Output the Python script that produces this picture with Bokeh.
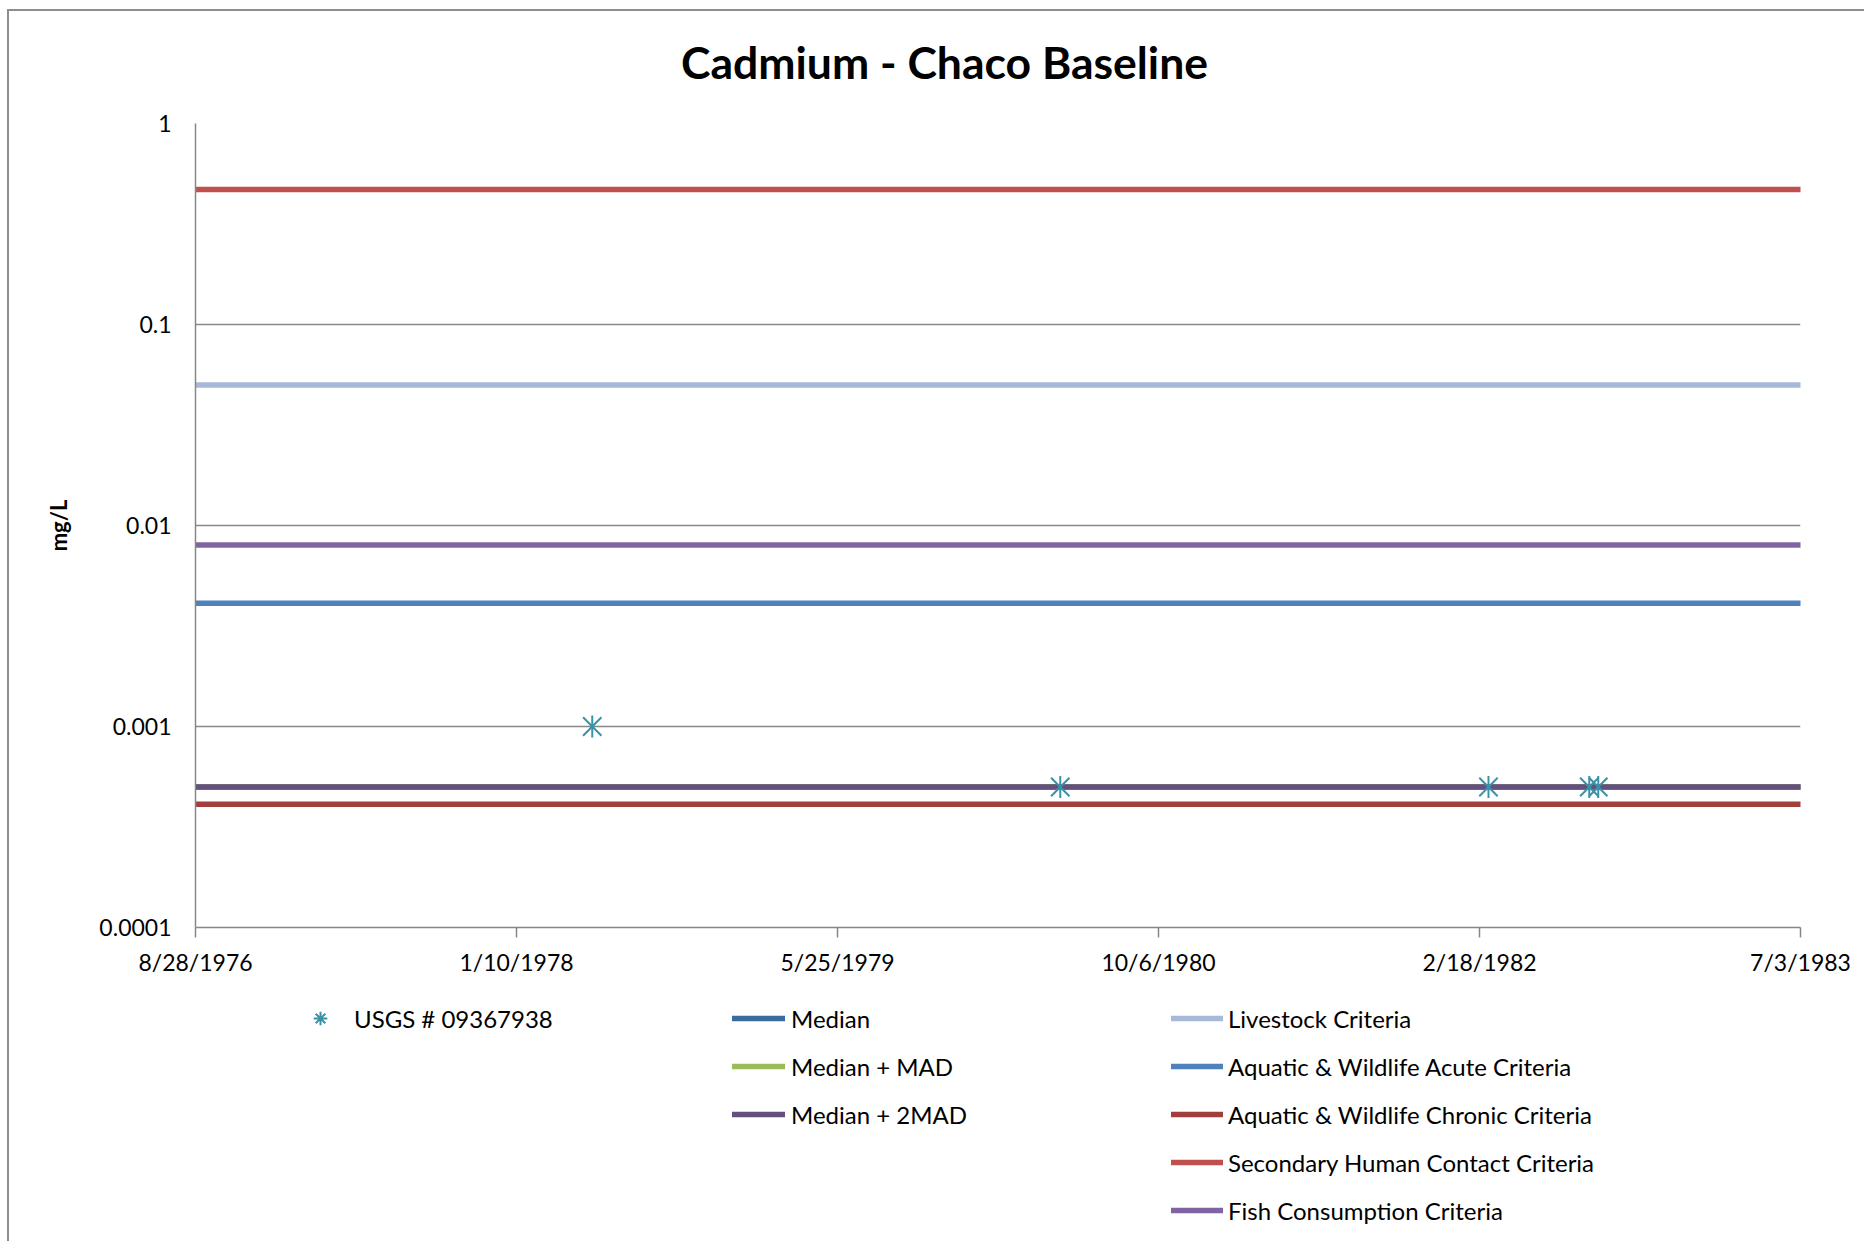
from datetime import datetime, timezone
from bokeh.plotting import figure
from bokeh.layouts import column
from bokeh.models import Range1d, FixedTicker, Legend, LegendItem, ColumnDataSource, Label
from bokeh.embed import file_html
from bokeh.resources import INLINE

# ---------------- data ----------------
title_text = "Cadmium - Chaco Baseline"
y_label = "mg/L"

x_tick_labels = ["8/28/1976", "1/10/1978", "5/25/1979", "10/6/1980", "2/18/1982", "7/3/1983"]
y_tick_values = [0.0001, 0.001, 0.01, 0.1, 1]
y_tick_labels = ["0.0001", "0.001", "0.01", "0.1", "1"]

usgs_label = "USGS # 09367938"
usgs_dates = ["5/8/1978", "5/6/1980", "3/4/1982", "8/8/1982", "8/22/1982"]
usgs_values = [0.001, 0.0005, 0.0005, 0.0005, 0.0005]

stat_names = ["Median", "Median + MAD", "Median + 2MAD"]
stat_values = [0.0005, 0.0005, 0.0005]
stat_colors = ["#3D6A9C", "#9BBB59", "#654F7F"]

crit_names = ["Livestock Criteria", "Aquatic & Wildlife Acute Criteria",
              "Aquatic & Wildlife Chronic Criteria", "Secondary Human Contact Criteria",
              "Fish Consumption Criteria"]
crit_values = [0.05, 0.0041, 0.00041, 0.47, 0.008]
crit_colors = ["#A7B9D8", "#4F81BD", "#A23F3D", "#C0504D", "#8064A2"]

marker_color = "#3A92A8"
grid_color = "#878787"
FONT = "Lato"
LINE_W = 5.5


def ms(s):
    d = datetime.strptime(s, "%m/%d/%Y").replace(tzinfo=timezone.utc)
    return d.timestamp() * 1000.0


x_ticks = [ms(s) for s in x_tick_labels]
x_start, x_end = x_ticks[0], x_ticks[-1]
usgs_src = dict(x=[ms(d) for d in usgs_dates], y=usgs_values)


def strip(height):
    f = figure(width=1855, height=height, x_range=Range1d(0, 1), y_range=Range1d(0, 1),
               output_backend="svg", toolbar_location=None,
               x_axis_location=None, y_axis_location=None,
               min_border_left=0, min_border_right=0, min_border_top=0, min_border_bottom=0)
    f.outline_line_color = None
    f.xgrid.visible = False
    f.ygrid.visible = False
    f.background_fill_color = "white"
    f.border_fill_color = "white"
    return f


# ---------------- title strip ----------------
top = strip(92)
top.add_layout(Label(x=749, y=42, x_units="screen", y_units="screen", text=title_text,
                     text_font=FONT, text_font_style="bold", text_font_size="44.5px",
                     text_align="center", text_baseline="middle", text_color="black"))

# ---------------- main figure ----------------
p = figure(width=1855, height=882, x_axis_type="datetime", y_axis_type="log",
           x_range=Range1d(x_start, x_end), y_range=Range1d(y_tick_values[0], y_tick_values[-1]),
           output_backend="svg", toolbar_location=None,
           min_border_left=186, min_border_right=64, min_border_top=20, min_border_bottom=58)
p.outline_line_color = None
p.background_fill_color = "white"
p.border_fill_color = "white"

p.xaxis.ticker = FixedTicker(ticks=x_ticks, minor_ticks=[])
p.xaxis.major_label_overrides = {t: l for t, l in zip(x_ticks, x_tick_labels)}
p.yaxis.ticker = FixedTicker(ticks=y_tick_values, minor_ticks=[])
p.yaxis.major_label_overrides = {t: l for t, l in zip(y_tick_values, y_tick_labels)}

for ax in (p.xaxis, p.yaxis):
    ax.axis_line_color = grid_color
    ax.axis_line_width = 1.5
    ax.major_tick_line_color = grid_color
    ax.major_tick_line_width = 1.5
    ax.minor_tick_line_color = None
    ax.major_tick_in = 0
    ax.major_label_text_font = FONT
    ax.major_label_text_font_size = "23px"
    ax.major_label_text_color = "black"

p.xaxis.major_tick_out = 10
p.xaxis.major_label_standoff = 10
p.yaxis.major_tick_out = 0
p.yaxis.major_label_standoff = 24

p.yaxis.axis_label = y_label
p.yaxis.axis_label_text_font = FONT
p.yaxis.axis_label_text_font_style = "bold"
p.yaxis.axis_label_text_font_size = "22px"
p.yaxis.axis_label_text_color = "black"
p.yaxis.axis_label_standoff = 24

p.xgrid.visible = False
p.ygrid.ticker = FixedTicker(ticks=y_tick_values, minor_ticks=[])
p.ygrid.grid_line_color = grid_color
p.ygrid.grid_line_width = 1.5

for v, c in zip(stat_values, stat_colors):
    p.line(x=[x_start, x_end], y=[v, v], line_color=c, line_width=LINE_W, line_cap="round")
for v, c in zip(crit_values, crit_colors):
    p.line(x=[x_start, x_end], y=[v, v], line_color=c, line_width=LINE_W, line_cap="round")

src = ColumnDataSource(usgs_src)
p.scatter("x", "y", source=src, marker="x", size=26, line_color=marker_color, line_width=2)
p.scatter("x", "y", source=src, marker="dash", angle=1.5708, size=22,
          line_color=marker_color, line_width=2)

# ---------------- legend strip (below the chart) ----------------
# The same series are drawn again here, outside this strip's view, only so
# that the legends (which Bokeh clips to the plot area) have glyphs.
lg = strip(256)
usgs_proxy = lg.scatter("x", "y", source=ColumnDataSource(usgs_src), marker="asterisk", size=14,
                        line_color=marker_color, line_width=2)
stat_items = [LegendItem(label=n, renderers=[lg.line(x=[x_start, x_end], y=[v, v], line_color=c,
                                                     line_width=LINE_W, line_cap="round")])
              for n, v, c in zip(stat_names, stat_values, stat_colors)]
crit_items = [LegendItem(label=n, renderers=[lg.line(x=[x_start, x_end], y=[v, v], line_color=c,
                                                     line_width=LINE_W, line_cap="round")])
              for n, v, c in zip(crit_names, crit_values, crit_colors)]


def add_legend(items, loc, gw, standoff):
    leg = Legend(items=items, location=loc, orientation="vertical",
                 glyph_width=gw, glyph_height=48, label_height=48, spacing=0,
                 label_standoff=standoff, padding=0, margin=0,
                 border_line_color=None, background_fill_alpha=0,
                 label_text_font=FONT, label_text_font_size="24px", label_text_color="black")
    lg.add_layout(leg)


add_legend([LegendItem(label=usgs_label, renderers=[usgs_proxy])], (108, 199), 34, 17)
add_legend(stat_items, (537, 103), 53, 6)
add_legend(crit_items, (976, 7), 52, 5)

page = column(top, p, lg, spacing=0,
              styles={"border-top": "2px solid #8E8E8E", "border-left": "2px solid #8E8E8E",
                      "margin-left": "7px", "margin-top": "9px"})

open("out.html", "w").write(file_html(page, INLINE))
